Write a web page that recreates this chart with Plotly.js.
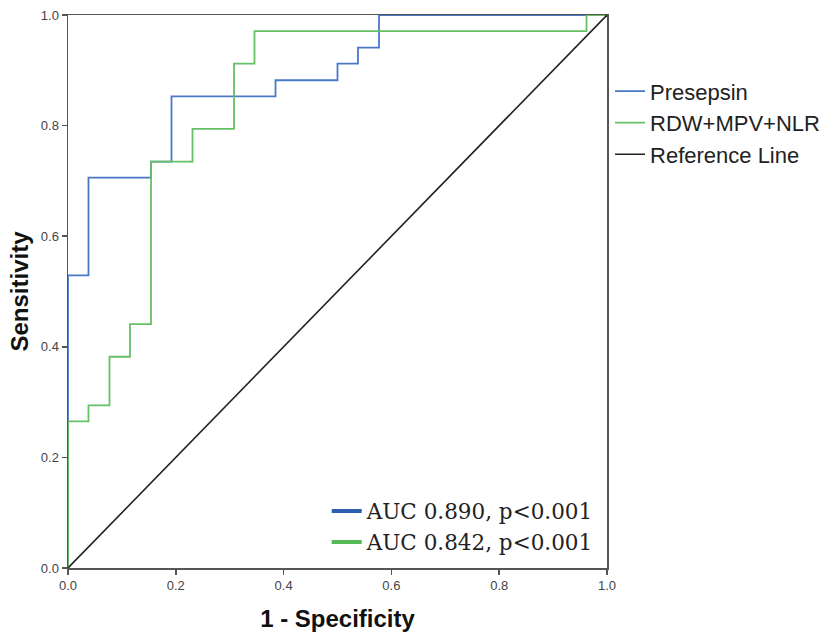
<!DOCTYPE html>
<html>
<head>
<meta charset="utf-8">
<script src="https://cdn.plot.ly/plotly-3.0.1.min.js"></script>
<style>html,body{margin:0;padding:0;background:#fff;}#chart{width:838px;height:637px;}</style>
</head>
<body>
<div id="chart"></div>
<script>
// ROC points (1 - specificity, sensitivity), drawn as steps
const presepsinFPR = [0, 0, 0.038, 0.154, 0.192, 0.385, 0.500, 0.538, 0.577, 1.0];
const presepsinTPR = [0, 0.529, 0.706, 0.735, 0.853, 0.882, 0.912, 0.941, 1.0, 1.0];
const comboFPR = [0, 0, 0.038, 0.077, 0.115, 0.154, 0.231, 0.308, 0.346, 0.962, 1.0];
const comboTPR = [0, 0.265, 0.294, 0.382, 0.441, 0.735, 0.794, 0.912, 0.971, 1.0, 1.0];
const refX = [0, 1];
const refY = [0, 1];
const seriesNames = ["Presepsin", "RDW+MPV+NLR", "Reference Line"];
const aucLabels = ["AUC 0.890, p<0.001", "AUC 0.842, p<0.001"];
const tickVals = [0, 0.2, 0.4, 0.6, 0.8, 1.0];
const tickText = ["0.0", "0.2", "0.4", "0.6", "0.8", "1.0"];

const blue = "#4a78c8", green = "#66c066";

const traces = [
  {x: presepsinFPR, y: presepsinTPR, mode: "lines", line: {shape: "hv", color: blue, width: 1.8}, name: seriesNames[0], legend: "legend"},
  {x: comboFPR, y: comboTPR, mode: "lines", line: {shape: "hv", color: green, width: 1.8}, name: seriesNames[1], legend: "legend"},
  {x: refX, y: refY, mode: "lines", line: {color: "#222", width: 1.6}, name: seriesNames[2], legend: "legend"},
  {x: [null], y: [null], mode: "lines", line: {color: "#2f5fb0", width: 4}, name: aucLabels[0], legend: "legend2"},
  {x: [null], y: [null], mode: "lines", line: {color: "#55b955", width: 4}, name: aucLabels[1], legend: "legend2"}
];

const axisCommon = {
  range: [0, 1], tickvals: tickVals, ticktext: tickText,
  showgrid: false, zeroline: false, showline: true, mirror: true,
  linecolor: "#555", linewidth: 1.5, ticks: "outside", ticklen: 5, tickcolor: "#555", tickwidth: 1.5,
  tickfont: {family: "Liberation Sans, Arial, sans-serif", size: 13, color: "#444"},
  fixedrange: true
};

const layout = {
  width: 838, height: 637,
  margin: {l: 68, r: 231, t: 15, b: 69},
  paper_bgcolor: "#fff", plot_bgcolor: "#fff",
  showlegend: true,
  xaxis: Object.assign({}, axisCommon, {
    title: {text: "<b>1 - Specificity</b>", font: {family: "Liberation Sans, Arial, sans-serif", size: 24, color: "#111"}, standoff: 18}
  }),
  yaxis: Object.assign({}, axisCommon, {
    title: {text: "<b>Sensitivity</b>", font: {family: "Liberation Sans, Arial, sans-serif", size: 24, color: "#111"}, standoff: 5}
  }),
  legend: {
    x: 1.0056, xanchor: "left", y: 0.90, yanchor: "top",
    font: {family: "Liberation Sans, Arial, sans-serif", size: 22, color: "#222"},
    bgcolor: "rgba(0,0,0,0)", borderwidth: 0, tracegroupgap: 0, itemwidth: 30
  },
  legend2: {
    x: 0.48, xanchor: "left", y: 0.14, yanchor: "top",
    font: {family: "DejaVu Serif, Liberation Serif, serif", size: 21.5, color: "#222"},
    bgcolor: "rgba(0,0,0,0)", borderwidth: 0, tracegroupgap: 0, itemwidth: 30
  }
};

Plotly.newPlot("chart", traces, layout, {displayModeBar: false, staticPlot: true});
</script>
</body>
</html>
